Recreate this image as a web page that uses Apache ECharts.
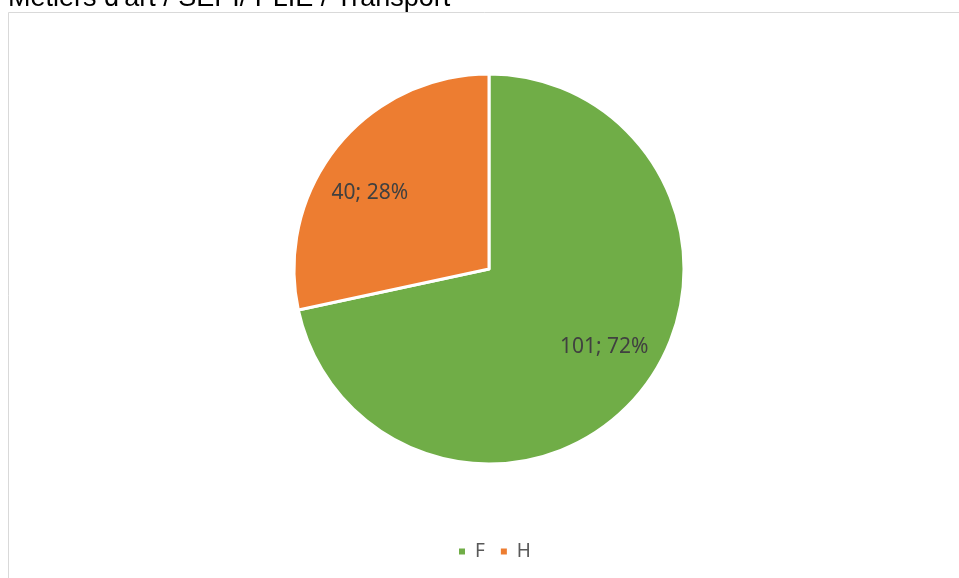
<!DOCTYPE html>
<html>
<head>
<meta charset="utf-8">
<script src="https://cdn.jsdelivr.net/npm/echarts@6/dist/echarts.min.js"></script>
<style>
  html, body { margin: 0; padding: 0; background: #fff; }
  #chart { width: 959px; height: 578px; }
</style>
</head>
<body>
<div id="chart"></div>
<script>
const categories = ['F', 'H']
const values = [101, 40]
const colors = ['#70ad47', '#ed7d31']
// nudges so the labels sit where Excel's "best fit" put them
const labelOffsets = [[2, -13], [-6, 15]]

const pieData = categories.map((name, i) => ({
  name: name,
  value: values[i],
  itemStyle: { color: colors[i] }
}))

const chart = echarts.init(document.getElementById('chart'))

chart.setOption({
  backgroundColor: '#ffffff',
  animation: false,
  title: {
    text: "Métiers d'art / SEPI/ PLIE / Transport",
    left: 8,
    top: -15,
    padding: 0,
    textStyle: {
      fontFamily: 'Liberation Sans',
      fontWeight: 'normal',
      fontSize: 27,
      color: '#000000'
    }
  },
  graphic: [
    {
      type: 'rect',
      shape: { x: 8.5, y: 12.5, width: 960, height: 580 },
      style: { fill: 'none', stroke: '#d9d9d9', lineWidth: 1 },
      silent: true
    }
  ],
  legend: {
    top: 537,
    left: 452,
    icon: 'rect',
    itemWidth: 8,
    itemHeight: 8,
    itemGap: 14,
    data: categories,
    textStyle: {
      fontFamily: 'Noto Sans',
      fontSize: 19,
      color: '#595959',
      padding: [0, 0, 0, 4]
    }
  },
  series: [
    {
      type: 'pie',
      center: [489, 269],
      radius: 195,
      startAngle: 90,
      clockwise: true,
      label: { show: false },
      labelLine: { show: false },
      itemStyle: { borderColor: '#ffffff', borderWidth: 3 },
      emphasis: { disabled: true },
      data: pieData
    },
    {
      // invisible ring used only to place the labels
      type: 'pie',
      center: [489, 269],
      radius: [90, 195],
      startAngle: 90,
      clockwise: true,
      silent: true,
      itemStyle: { color: 'rgba(0,0,0,0)' },
      label: {
        show: true,
        position: 'inside',
        formatter: (p) => p.value + '; ' + Math.round(p.percent) + '%',
        fontFamily: 'Noto Sans',
        fontSize: 21,
        color: '#404040'
      },
      labelLine: { show: false },
      emphasis: { disabled: true },
      data: categories.map((name, i) => ({
        name: name,
        value: values[i],
        label: { offset: labelOffsets[i] }
      }))
    }
  ]
})
</script>
</body>
</html>
